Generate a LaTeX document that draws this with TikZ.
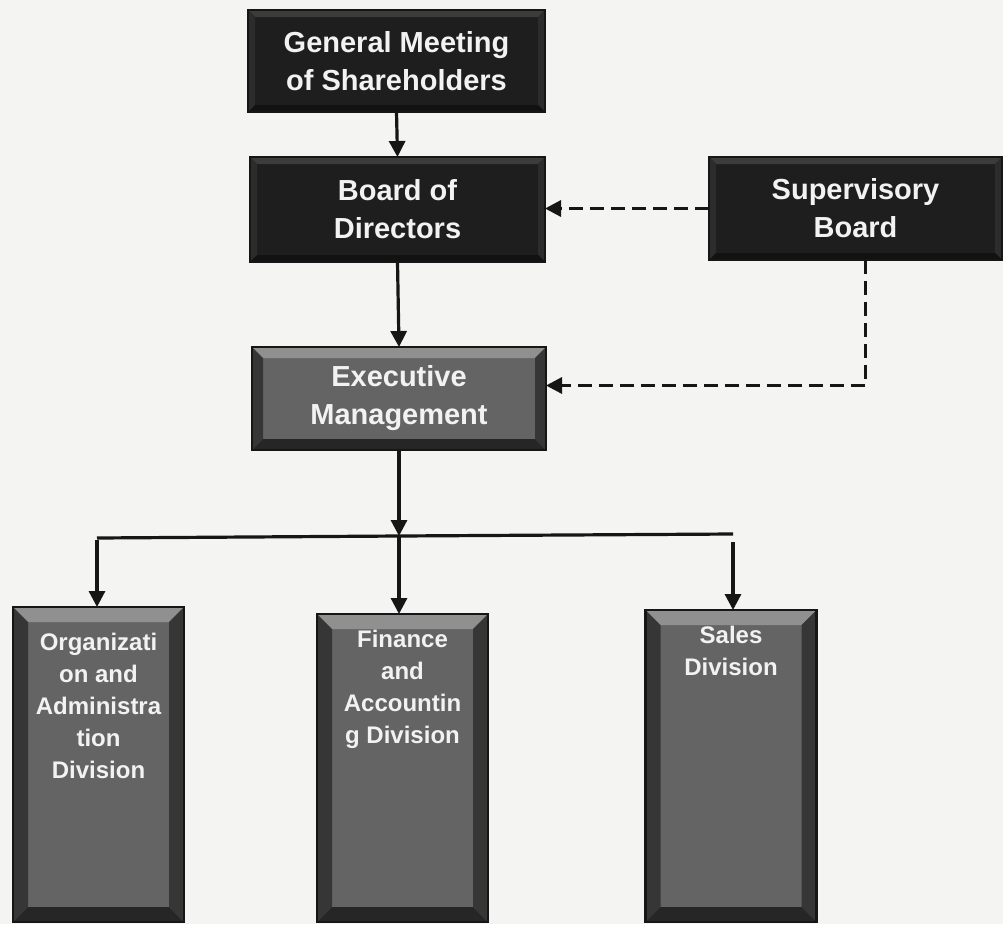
\documentclass[tikz,border=0pt]{standalone}
\usepackage{fontspec}
\setmainfont{Liberation Sans}
\usetikzlibrary{arrows.meta,backgrounds,calc}

\definecolor{paper}{HTML}{F4F4F2}
\definecolor{darkface}{HTML}{1E1E1E}
\definecolor{darktop}{HTML}{3C3C3C}
\definecolor{darkside}{HTML}{2C2C2C}
\definecolor{darkbot}{HTML}{121212}
\definecolor{greyface}{HTML}{646464}
\definecolor{greytop}{HTML}{909090}
\definecolor{greyside}{HTML}{363636}
\definecolor{greybot}{HTML}{262626}
\definecolor{ink}{HTML}{161616}
\definecolor{lettering}{HTML}{F2F2F2}

% bevelled frame: node, bevel width, face, top, sides, bottom
\newcommand\bevelframe[6]{%
  \fill[#3] (#1.north west) rectangle (#1.south east);
  \fill[#4] (#1.north west) -- (#1.north east) -- ([shift={(-#2,#2)}]#1.north east) -- ([shift={(#2,#2)}]#1.north west) -- cycle;
  \fill[#5] (#1.north west) -- ([shift={(#2,#2)}]#1.north west) -- ([shift={(#2,-#2)}]#1.south west) -- (#1.south west) -- cycle;
  \fill[#5] (#1.north east) -- ([shift={(-#2,#2)}]#1.north east) -- ([shift={(-#2,-#2)}]#1.south east) -- (#1.south east) -- cycle;
  \fill[#6] (#1.south west) -- ([shift={(#2,-#2)}]#1.south west) -- ([shift={(-#2,-#2)}]#1.south east) -- (#1.south east) -- cycle;
  \draw[ink, line width=2.2pt] (#1.north west) rectangle (#1.south east);}

\tikzset{
  x=1pt, y=-1pt,
  bigbox/.style={inner sep=0pt, outer sep=0pt, align=center, text=lettering,
    font=\fontsize{29}{38}\selectfont\bfseries},
  divbox/.style={inner sep=0pt, outer sep=0pt, minimum width=171pt},
  divtext/.style={anchor=north, inner sep=0pt, align=center, text=lettering,
    font=\fontsize{24}{32}\selectfont\bfseries},
  link/.style={ink, line width=3.2pt},
  arr/.style={link, -{Triangle[length=16pt,width=16pt]}},
  dasharr/.style={arr, dash pattern=on 14pt off 7pt},
}

\begin{document}
\begin{tikzpicture}
\useasboundingbox (0,0) rectangle (1003,924);

% governing bodies
\node[bigbox, minimum width=297pt, minimum height=102pt] (gm) at (396.5,61) {General Meeting\\of Shareholders};
\node[bigbox, minimum width=295pt, minimum height=105pt] (board) at (397.5,209.5) {Board of\\Directors};
\node[bigbox, minimum width=293pt, minimum height=103pt] (sup) at (855.5,208.5) {Supervisory\\Board};
\node[bigbox, minimum width=294pt, minimum height=103pt] (exec) at (399,398.5) {Executive\\Management};

% divisions
\node[divbox, minimum height=315pt] (org) at (98.5,764.5) {};
\node[divbox, minimum height=308pt] (fin) at (402.5,768) {};
\node[divbox, minimum height=312pt] (sales) at (731,766) {};
\node[divtext] (orgt) at ([yshift=-26pt]org.north) {Organizati\\on and\\Administra\\tion\\Division};
\node[divtext] (fint) at ([yshift=-16pt]fin.north) {Finance\\and\\Accountin\\g Division};
\node[divtext] (salest) at ([yshift=-16pt]sales.north) {Sales\\Division};

\begin{pgfonlayer}{background}
  \fill[paper] (0,0) rectangle (1003,924);
  \bevelframe{gm}{7}{darkface}{darktop}{darkside}{darkbot}
  \bevelframe{board}{7}{darkface}{darktop}{darkside}{darkbot}
  \bevelframe{sup}{7}{darkface}{darktop}{darkside}{darkbot}
  \bevelframe{exec}{11}{greyface}{greytop}{greyside}{greybot}
  \bevelframe{org}{15}{greyface}{greytop}{greyside}{greybot}
  \bevelframe{fin}{15}{greyface}{greytop}{greyside}{greybot}
  \bevelframe{sales}{15}{greyface}{greytop}{greyside}{greybot}
\end{pgfonlayer}

% reporting lines
\draw[arr] (gm.south) -- (board.north);
\draw[arr] (board.south) -- (exec.north);
\draw[dasharr] (sup.west) -- (sup.west -| board.east);
\draw[dasharr] ([xshift=10pt]sup.south) |- ([yshift=13pt]exec.east);

% distribution bar to the divisions
\coordinate (j) at (399,536);
\coordinate (lj) at (97,538);
\coordinate (rj) at (733,534);
\draw[arr] (exec.south) -- (j);
\draw[link] (lj) -- (j) -- (rj);
\draw[arr] ([yshift=-1.6pt]lj) -- (lj |- org.north);
\draw[arr] (j) -- (j |- fin.north);
\draw[arr] ([yshift=-8pt]rj) -- (rj |- sales.north);
\end{tikzpicture}
\end{document}
